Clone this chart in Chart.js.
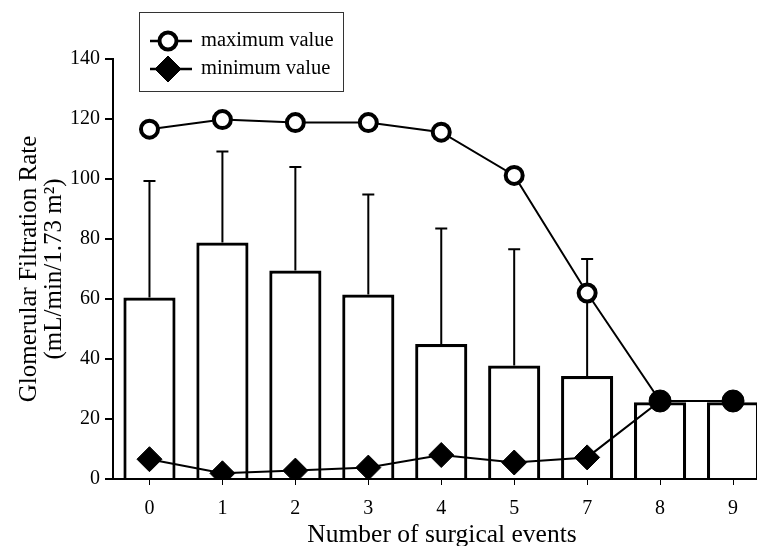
<!DOCTYPE html>
<html>
<head>
<meta charset="utf-8">
<script src="https://cdn.jsdelivr.net/npm/chart.js@4.4.1/dist/chart.umd.min.js"></script>
<style>
  html, body { margin: 0; padding: 0; background: #fff; overflow: hidden; }
  canvas { display: block; }
</style>
</head>
<body>
<canvas id="gfr" width="783" height="546"></canvas>
<script>
// values
const events = ['0', '1', '2', '3', '4', '5', '7', '8', '9'];
const meanGfr = [60.5, 78.8, 69.5, 61.5, 45, 37.8, 34.3, 25.6, 25.6];
const sdUpper = [99.3, 109.2, 104, 94.8, 83.5, 76.6, 73.3, null, null];
const maxGfr = [116.6, 119.8, 118.8, 118.8, 115.6, 101.2, 62, 26, 26];
const minGfr = [6.6, 1.9, 2.8, 3.8, 8, 5.5, 7.2, 26, 26];
const yTicks = [0, 20, 40, 60, 80, 100, 120, 140];

const serif = "'Liberation Serif', 'Times New Roman', serif";

// upper error whiskers, drawn right after the bars so the markers sit on top
const errorBars = {
  id: 'errorBars',
  afterDatasetDraw(chart, args) {
    if (args.index !== 0) return;
    const ctx = chart.ctx;
    const y = chart.scales.y;
    ctx.save();
    ctx.strokeStyle = '#000';
    ctx.lineWidth = 2;
    chart.getDatasetMeta(0).data.forEach((bar, i) => {
      if (sdUpper[i] == null) return;
      const top = y.getPixelForValue(sdUpper[i]);
      ctx.beginPath();
      ctx.moveTo(bar.x, bar.y);
      ctx.lineTo(bar.x, top);
      ctx.moveTo(bar.x - 6, top);
      ctx.lineTo(bar.x + 6, top);
      ctx.stroke();
    });
    ctx.restore();
  }
};

// boxed legend with line + marker samples, and the x axis caption
const decorations = {
  id: 'decorations',
  afterDraw(chart) {
    const ctx = chart.ctx;
    ctx.save();
    ctx.fillStyle = '#fff';
    ctx.fillRect(139.5, 12.5, 204, 79);
    ctx.strokeStyle = '#333';
    ctx.lineWidth = 1;
    ctx.strokeRect(139.5, 12.5, 204, 79);

    const rows = [
      { ds: chart.data.datasets[1], y: 41, style: 'circle', r: 8.5, bw: 4, fill: '#fff' },
      { ds: chart.data.datasets[2], y: 69, style: 'rectRot', r: 13, bw: 1, fill: '#000' }
    ];
    rows.forEach(row => {
      ctx.strokeStyle = '#000';
      ctx.lineWidth = 2.5;
      ctx.beginPath();
      ctx.moveTo(150, row.y);
      ctx.lineTo(192, row.y);
      ctx.stroke();
      ctx.fillStyle = row.fill;
      ctx.lineWidth = row.bw;
      Chart.helpers.drawPoint(ctx, { pointStyle: row.style, radius: row.r, borderWidth: row.bw, rotation: 0 }, 168, row.y);
      ctx.fillStyle = '#000';
      ctx.font = '20.5px ' + serif;
      ctx.textAlign = 'left';
      ctx.textBaseline = 'middle';
      ctx.fillText(row.ds.label, 201, row.y);
    });

    ctx.font = '25.5px ' + serif;
    ctx.textAlign = 'center';
    ctx.textBaseline = 'alphabetic';
    ctx.fillText('Number of surgical events', 442, 542);
    ctx.restore();
  }
};

new Chart(document.getElementById('gfr'), {
  type: 'bar',
  data: {
    labels: events,
    datasets: [
      {
        label: 'mean',
        data: meanGfr,
        backgroundColor: '#fff',
        borderColor: '#000',
        borderWidth: 3.2,
        barPercentage: 0.715,
        categoryPercentage: 1,
        order: 3
      },
      {
        type: 'line',
        label: 'maximum value',
        data: maxGfr,
        borderColor: '#000',
        borderWidth: 2,
        pointStyle: 'circle',
        pointRadius: 8.5,
        pointBorderWidth: 4,
        pointBackgroundColor: '#fff',
        pointBorderColor: '#000',
        order: 2
      },
      {
        type: 'line',
        label: 'minimum value',
        data: minGfr,
        borderColor: '#000',
        borderWidth: 2,
        pointStyle: ['rectRot', 'rectRot', 'rectRot', 'rectRot', 'rectRot', 'rectRot', 'rectRot', 'circle', 'circle'],
        pointRadius: [12.5, 12.5, 12.5, 12.5, 12.5, 12.5, 12.5, 11, 11],
        pointBorderWidth: 1,
        pointBackgroundColor: '#000',
        pointBorderColor: '#000',
        order: 1
      }
    ]
  },
  options: {
    responsive: false,
    animation: false,
    layout: { padding: { top: 59, left: 0, right: 0, bottom: 0 } },
    plugins: {
      legend: { display: false },
      tooltip: { enabled: false }
    },
    scales: {
      x: {
        offset: true,
        afterFit: s => { s.height = 67; s.paddingLeft = 0; s.paddingRight = 0; },
        border: { color: '#000', width: 2 },
        grid: { offset: false, drawOnChartArea: false, tickLength: 6, tickColor: '#000', lineWidth: 1 },
        ticks: { color: '#000', padding: 12, font: { family: serif, size: 20 } }
      },
      y: {
        min: 0,
        max: 140,
        afterFit: s => { s.width = 113; },
        afterBuildTicks: s => { s.ticks = yTicks.map(v => ({ value: v })); },
        border: { color: '#000', width: 2 },
        grid: { drawOnChartArea: false, tickLength: 8, tickColor: '#000', lineWidth: 2 },
        ticks: { color: '#000', padding: 5, font: { family: serif, size: 20 } },
        title: {
          display: true,
          text: ['Glomerular Filtration Rate', '(mL/min/1.73 m\u00b2)'],
          color: '#000',
          padding: { top: 17, bottom: 0 },
          font: { family: serif, size: 25, lineHeight: 1.0 }
        }
      }
    }
  },
  plugins: [errorBars, decorations]
});
</script>
</body>
</html>
